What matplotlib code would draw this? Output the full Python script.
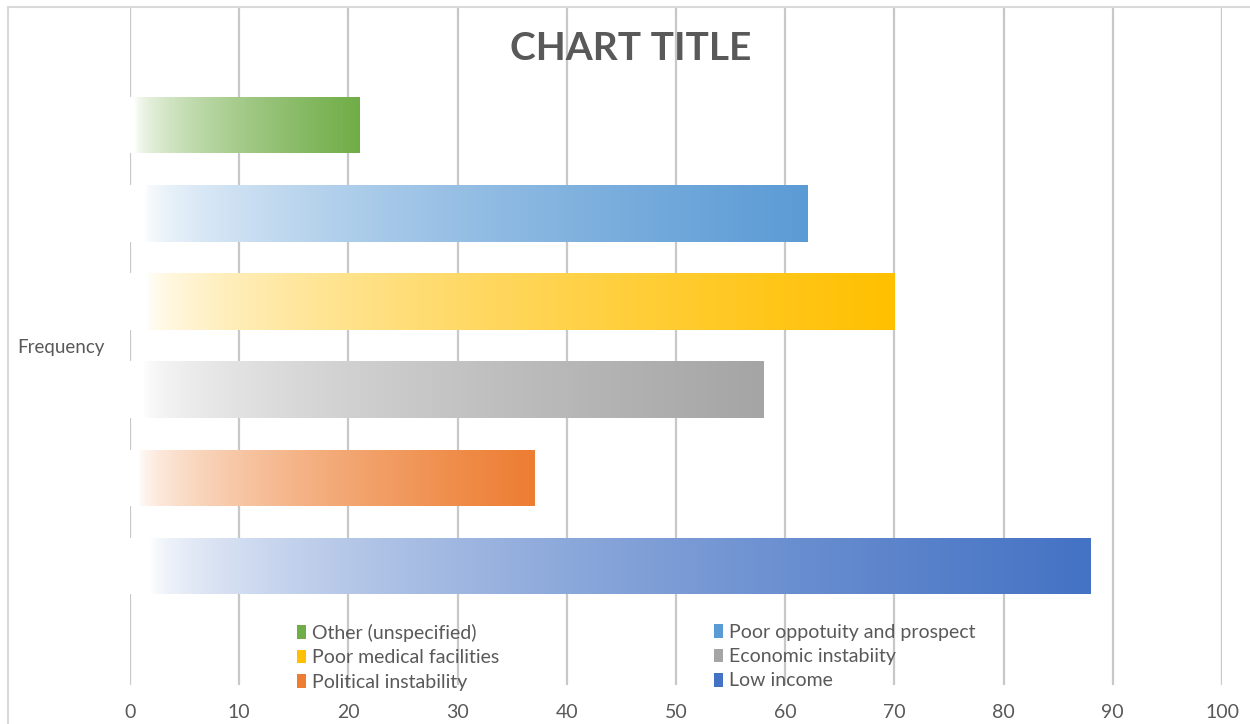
import numpy as np
import matplotlib
matplotlib.use("Agg")
import matplotlib.pyplot as plt
from matplotlib.patches import Patch, Rectangle
from matplotlib.colors import to_rgb

plt.rcParams['font.family'] = ['Lato', 'DejaVu Sans']

# ---- data ----
series = ["Other (unspecified)", "Poor oppotuity and prospect", "Poor medical facilities",
          "Economic instabiity", "Political instability", "Low income"]
values = [21, 62, 70, 58, 37, 88]
colors = ["#70AD47", "#5B9BD5", "#FFC000", "#A5A5A5", "#ED7D31", "#4472C4"]
category = "Frequency"
xticks = list(range(0, 101, 10))

fig = plt.figure(figsize=(12.5, 7.24), dpi=100)
ax = fig.add_axes([130/1250, 1-685/724, (1222-130)/1250, (685-7)/724])

n = len(series)
ypos = np.arange(n)[::-1]  # first series on top
bars = ax.barh(ypos, values, height=0.64, color=colors, zorder=3)

# gradient fill clipped to each bar
for bar, c in zip(bars, colors):
    x0, y0 = bar.get_x(), bar.get_y()
    w, h = bar.get_width(), bar.get_height()
    t = np.linspace(0, 1, 256)
    f = np.clip((t - 0.02) / 0.98, 0, 1) ** 0.6
    rgb = np.array(to_rgb(c))
    img = (1 - f)[:, None] * np.ones(3) + f[:, None] * rgb
    img = img[None, :, :]
    bar.set_facecolor("none")
    im = ax.imshow(img, extent=[x0, x0 + w, y0, y0 + h], aspect="auto",
                   zorder=3, interpolation="bilinear")
    im.set_clip_path(bar)

ax.set_xlim(0, 100)
ax.set_ylim(-1.35, n - 1 + 1.34)
ax.set_xticks(xticks)
ax.set_xticklabels([str(v) for v in xticks], color="#595959", fontsize=14)
ax.set_yticks([(n - 1) / 2])
ax.set_yticklabels([category], color="#595959", fontsize=13.5)
ax.tick_params(axis="both", length=0)
ax.tick_params(axis="x", pad=14)
ax.tick_params(axis="y", pad=18)
ax.grid(axis="x", color="#C8C8C8", linewidth=1.6, zorder=0)
for s in ax.spines.values():
    s.set_visible(False)

fig.text(631/1250, 1-48/724, "CHART TITLE", ha="center", va="center",
         fontsize=28, fontweight="bold", color="#595959")

# legends (two columns)
handles = [Patch(facecolor=c, edgecolor="none") for c in colors]
order1 = [0, 2, 4]
order2 = [1, 3, 5]
common = dict(frameon=False, fontsize=14, handlelength=0.5, handleheight=0.7,
              handletextpad=0.3, labelspacing=0.38, borderpad=0, labelcolor="#595959")
leg1 = fig.legend([handles[i] for i in order1], [series[i] for i in order1],
                  loc="upper left", bbox_to_anchor=(287/1250, 1-614/724), **common)
leg2 = fig.legend([handles[i] for i in order2], [series[i] for i in order2],
                  loc="upper left", bbox_to_anchor=(704/1250, 1-614/724), **common)

# chart area border
fig.patches.append(Rectangle((8/1250, -0.1), 1.2, 1 - 7/724 + 0.1, transform=fig.transFigure,
                             fill=False, edgecolor="#D9D9D9", linewidth=1.5))

fig.savefig("out.png", dpi=100)
